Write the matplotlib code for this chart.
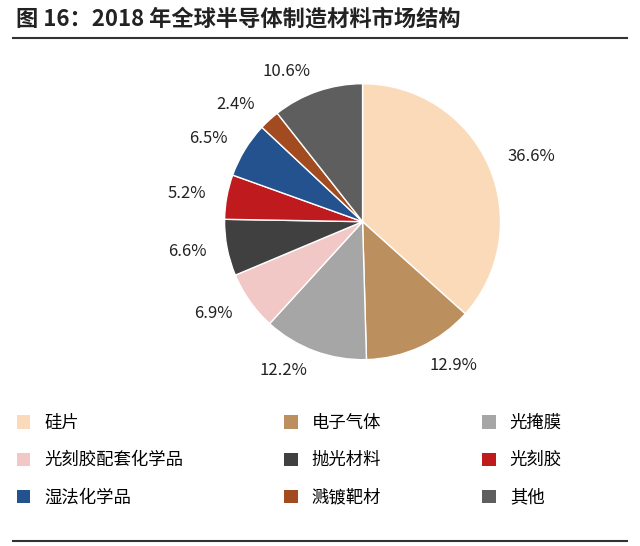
import matplotlib
matplotlib.use('Agg')
import matplotlib.pyplot as plt
from matplotlib.patches import Patch

plt.rcParams['font.family'] = ['Noto Sans CJK SC', 'DejaVu Sans']

labels = ['硅片', '电子气体', '光掩膜', '光刻胶配套化学品', '抛光材料', '光刻胶', '湿法化学品', '溅镀靶材', '其他']
values = [36.6, 12.9, 12.2, 6.9, 6.6, 5.2, 6.5, 2.4, 10.6]
colors = ['#FBDAB9', '#BC8F5F', '#A6A6A6', '#F2C8C6', '#404040', '#BF1B1E', '#24528F', '#A34B20', '#5E5E5E']

fig = plt.figure(figsize=(6.4, 5.46), dpi=100)
fig.text(0.025, 0.965, '图 16：2018 年全球半导体制造材料市场结构', fontsize=16, fontweight='bold',
         va='center', ha='left', color='#222222')
fig.add_artist(plt.Line2D([0.02, 0.98], [0.93, 0.93], color='#333333', lw=1.5))
fig.add_artist(plt.Line2D([0.02, 0.98], [0.01, 0.01], color='#333333', lw=1.5))

ax = fig.add_axes([0.297, 0.278, 0.539, 0.632])
ax.pie(values, colors=colors, startangle=90, counterclock=False,
       labels=['%.1f%%' % v for v in values], labeldistance=1.15,
       textprops={'fontsize': 12, 'color': '#222222'},
       wedgeprops={'edgecolor': 'white', 'linewidth': 1})
ax.set_aspect('equal')

handles = [Patch(facecolor=c, edgecolor='none') for c in colors]
order = [0, 3, 6, 1, 4, 7, 2, 5, 8]
fig.legend([handles[i] for i in order], [labels[i] for i in order], loc='lower left',
           bbox_to_anchor=(0.015, 0.06), ncol=3, frameon=False, fontsize=12.5,
           handlelength=0.8, handleheight=0.8, columnspacing=5.8, labelspacing=1.1, borderaxespad=0)

fig.savefig('out.png', dpi=100)
